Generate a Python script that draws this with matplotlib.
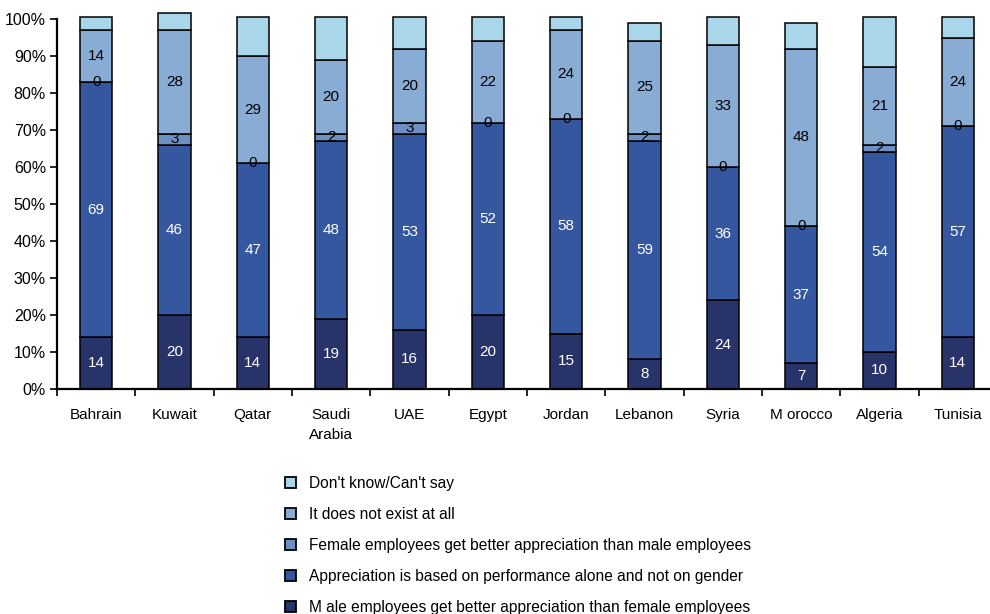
import matplotlib
matplotlib.use("Agg")
import matplotlib.pyplot as plt
from matplotlib.patches import Patch
import numpy as np

plt.rcParams['font.family'] = ['Liberation Sans', 'DejaVu Sans']

countries = ["Bahrain", "Kuwait", "Qatar", "Saudi\nArabia", "UAE", "Egypt",
             "Jordan", "Lebanon", "Syria", "M orocco", "Algeria", "Tunisia"]

male_better = [14, 20, 14, 19, 16, 20, 15, 8, 24, 7, 10, 14]
performance = [69, 46, 47, 48, 53, 52, 58, 59, 36, 37, 54, 57]
female_better = [0, 3, 0, 2, 3, 0, 0, 2, 0, 0, 2, 0]
not_exist = [14, 28, 29, 20, 20, 22, 24, 25, 33, 48, 21, 24]
dont_know = [3.5, 4.5, 10.5, 11.5, 8.5, 6.5, 3.5, 5, 7.5, 7, 13.5, 5.5]

series_labels = [
    "M ale employees get better appreciation than female employees",
    "Appreciation is based on performance alone and not on gender",
    "Female employees get better appreciation than male employees",
    "It does not exist at all",
    "Don't know/Can't say",
]
series = [male_better, performance, female_better, not_exist, dont_know]
colors = ["#283369", "#3557A0", "#6E8FC3", "#88ACD3", "#A9D7E9"]
text_colors = ["white", "white", "black", "black", None]

fig = plt.figure(figsize=(9.9, 6.14), dpi=100)
ax = fig.add_axes([57 / 990, 225 / 614, 940 / 990, 370 / 614])

x = np.arange(len(countries))
bottom = np.zeros(len(countries))
for vals, col, tc in zip(series, colors, text_colors):
    vals = np.array(vals, dtype=float)
    ax.bar(x, vals, bottom=bottom, width=0.41, color=col,
           edgecolor="black", linewidth=1.1, clip_on=False, zorder=2)
    if tc is not None:
        for xi, b, v in zip(x, bottom, vals):
            ax.text(xi, b + v / 2, f"{v:g}", ha="center", va="center",
                    color=tc, fontsize=11, zorder=3)
    bottom += vals

ax.set_xlim(-0.5, len(countries) - 0.5)
ax.set_ylim(0, 100)
ax.set_yticks(np.arange(0, 101, 10))
ax.set_yticklabels([f"{v}%" for v in range(0, 101, 10)], fontsize=11.5)
ax.set_xticks(x)
ax.set_xticklabels(countries, fontsize=11, linespacing=1.5)
ax.tick_params(axis="x", length=0, pad=14)
ax.set_xticks(np.arange(-0.5, len(countries), 1), minor=True)
ax.tick_params(axis="x", which="minor", length=5, width=1.2, direction="out")
ax.tick_params(axis="y", length=5, width=1.2, direction="out", pad=3)

for side in ("top", "right"):
    ax.spines[side].set_visible(False)
for side in ("left", "bottom"):
    ax.spines[side].set_linewidth(1.6)

handles = [Patch(facecolor=c, edgecolor="black", linewidth=1.3)
           for c in colors[::-1]]
fig.legend(handles, series_labels[::-1], loc="upper left",
           bbox_to_anchor=(277 / 990, 1 - 468 / 614), frameon=False,
           fontsize=11.2, handlelength=0.75, handleheight=0.75,
           handletextpad=0.8, labelspacing=1.03, borderpad=0)

fig.savefig("out.png", dpi=100)
